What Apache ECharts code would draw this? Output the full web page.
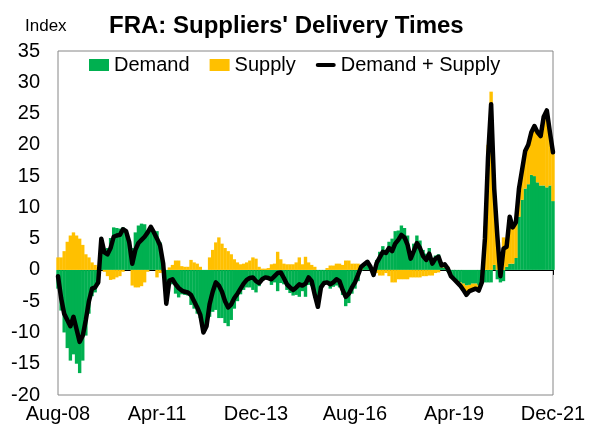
<!DOCTYPE html>
<html>
<head>
<meta charset="utf-8">
<script src="https://cdn.jsdelivr.net/npm/echarts@6/dist/echarts.min.js"></script>
<style>
html,body{margin:0;padding:0;background:#fff;}
#chart{width:594px;height:435px;}
</style>
</head>
<body>
<div id="chart"></div>
<script>
// Monthly data, Aug-08 .. Dec-21
const startYear = 2008;
const startMonth = 7; // August (0-based)
const monthNames = ['Jan','Feb','Mar','Apr','May','Jun','Jul','Aug','Sep','Oct','Nov','Dec'];

const demand = [
  -3, -6.5, -10, -12.5, -14.5, -13.5, -15, -16.5, -14.5, -10.5,
  -7, -4.2, -3.6, -2.3, 5.0, 3.1, 3.5, 5.1, 6.8, 6.7,
  6.6, 6.8, 6.2, 4.5, 3.5, 6.0, 7.1, 7.4, 7.3, 6.3,
  6.9, 6.0, 6.2, 4.4, 1.0, -5.4, -2.1, -2.3, -3.8, -4.4,
  -3.9, -4.0, -4.1, -5.6, -6.2, -7.0, -7.7, -10, -9, -7.5,
  -6.7, -6.4, -7.7, -7.7, -8.5, -9.0, -8.0, -6.2, -5.0, -3.9,
  -3.2, -2.8, -2.8, -3.2, -3.6, -2.6, -1.7, -1.4, -1.6, -2.4,
  -2.0, -3.4, -2.1, -2.3, -3.2, -3.7, -4.1, -4.0, -4.3, -3.4,
  -4.3, -2.4, -2.6, -4.5, -5.9, -2.8, -2.1, -2.3, -3.0, -2.7,
  -2.5, -2.8, -4.0, -5.8, -5.3, -3.8, -3.0, -1.8, -0.1, 0.6,
  1.3, 0.5, -0.8, 1.6, 2.9, 3.8, 3.2, 4.5, 5.0, 6.2,
  6.3, 7.1, 6.7, 5.5, 3.0, 4.2, 5.5, 4.7, 3.2, 2.6,
  3.5, 1.9, 2.3, 2.5, 0.4, 0.4, -0.3, -1.0, -1.5, -1.7,
  -2.0, -2.2, -2.5, -2.4, -2.2, -2.2, -2.5, -1.5, -2, -2,
  -2, 0.8, -1.5, -2, -1.8, 0.5, 1.0, 1.0, 1.9, 8.5,
  11.2, 13, 13.7, 15.2, 15, 14, 13.5, 13.5, 13.2, 13.5,
  11
];

const supply = [
  2, 2, 3, 4.5, 5.5, 6, 5.5, 5, 4, 2.5,
  2, 1.2, 0.8, 0.3, 0, -0.3, -1.0, -1.6, -1.5, -1.2,
  -1.0, -0.3, 0, 0, -2.5, -2.8, -2.8, -2.6, -2.0, -0.3,
  0, 0, -1.2, -0.5, 0, 0, 0.4, 0.8, 1.5, 1.5,
  0.6, 0.5, 0.5, 1.6, 1.2, 1.0, 0.5, 0, 0, 2,
  3.2, 4.4, 5.2, 4.2, 3.5, 3.0, 2.5, 1.7, 1.2, 0.9,
  1.0, 1.2, 1.5, 2.0, 1.8, 0.5, 0.2, 0.2, 0.3, 0.9,
  1.0, 2.9, 1.7, 1.0, 0.9, 0.9, 0.9, 1.2, 2.0, 0.9,
  2.1, 1.2, 0.8, 0.5, 0, 0, 0, 0.3, 0.7, 0.7,
  1.0, 1.0, 0.8, 1.5, 1.5, 1.0, 1.0, 1.0, 0.6, 0.3,
  0, 0, 0, -0.5, -0.9, -0.9, -0.5, -1.0, -2.0, -2.0,
  -1.5, -1.5, -1.5, -1.5, -1.2, -1.2, -1.2, -1.2, -1.0, -1.0,
  -0.9, -0.9, -0.5, -0.4, 0.3, 0.5, 0.5, 0, 0, -0.3,
  -0.5, -1.0, -1.5, -1.0, -1.0, -0.8, -0.8, -0.5, 7, 20,
  28.5, 12.2, 7, 1, 5.2, 3.2, 7.5, 5.8, 5.7, 4.5,
  4.8, 6, 6.3, 6.8, 8, 8, 7.9, 11, 12.3, 8.5,
  7.8
];

const tickLabels = ['Aug-08', 'Apr-11', 'Dec-13', 'Aug-16', 'Apr-19', 'Dec-21'];

const categories = [];
for (let k = 0; k < demand.length; k++) {
  const m = (startMonth + k) % 12;
  const y = startYear + Math.floor((startMonth + k) / 12);
  categories.push(monthNames[m] + '-' + String(y % 100).padStart(2, '0'));
}
const total = demand.map((d, k) => +(d + supply[k]).toFixed(2));

const FONT = '"Liberation Sans", Arial, sans-serif';
// thick line legend key (degenerate sub-paths only fix the bounding box)
const LINE_ICON = 'path://M0,0L0.01,0L0.01,0.01ZM0,12L0.01,12L0.01,11.99ZM2.5,3.5L21.5,3.5A2.5,2.5,0,0,1,21.5,8.5L2.5,8.5A2.5,2.5,0,0,1,2.5,3.5Z';

const chart = echarts.init(document.getElementById('chart'), null, {renderer: 'canvas'});
chart.setOption({
  animation: false,
  backgroundColor: '#ffffff',
  textStyle: {fontFamily: FONT, color: '#000'},
  title: [
    {text: "FRA: Suppliers' Delivery Times", left: 109, top: 14, padding: 0,
     textStyle: {fontFamily: FONT, fontSize: 24, fontWeight: 'bold', color: '#000'}},
    {text: 'Index', left: 25, top: 18, padding: 0,
     textStyle: {fontFamily: FONT, fontSize: 17, fontWeight: 'normal', color: '#000'}}
  ],
  legend: {
    left: 89, top: 55, itemGap: 20, itemWidth: 20, itemHeight: 12, padding: 0,
    textStyle: {fontFamily: FONT, fontSize: 20, color: '#000'},
    data: [
      {name: 'Demand', icon: 'rect'},
      {name: 'Supply', icon: 'rect'},
      {name: 'Demand + Supply', icon: LINE_ICON, itemStyle: {color: '#000'}}
    ]
  },
  grid: {left: 58, right: 41, top: 51, bottom: 40, show: true, borderColor: '#868686', borderWidth: 1},
  xAxis: [
    {
      type: 'category', data: categories, boundaryGap: false, position: 'bottom',
      axisLine: {show: false, onZero: false},
      axisTick: {show: false},
      axisLabel: {interval: 31, margin: 9, fontSize: 20, color: '#000', fontFamily: FONT,
        formatter: v => tickLabels.includes(v) ? v : ''},
      splitLine: {show: false}
    },
    {
      type: 'category', data: categories, boundaryGap: false, position: 'top',
      axisLine: {show: true, onZero: true, lineStyle: {color: '#000', width: 1}},
      axisTick: {show: true, interval: 31, inside: true, length: 5, lineStyle: {color: '#000'}},
      axisLabel: {show: false},
      splitLine: {show: false}
    }
  ],
  yAxis: {
    type: 'value', min: -20, max: 35, interval: 5,
    axisLine: {show: false}, axisTick: {show: false}, splitLine: {show: false},
    axisLabel: {fontSize: 20, color: '#000', margin: 18, fontFamily: FONT}
  },
  series: [
    {name: 'Demand', type: 'bar', stack: 'tot', data: demand, barWidth: 3.4,
     itemStyle: {color: '#00B050'}, clip: true},
    {name: 'Supply', type: 'bar', stack: 'tot', data: supply, barWidth: 3.4,
     itemStyle: {color: '#FFC000'}, clip: true},
    {name: 'Demand + Supply', type: 'line', data: total, symbol: 'none', showSymbol: false,
     lineStyle: {color: '#000', width: 4.5, join: 'round', cap: 'round'}, itemStyle: {color: '#000'}, z: 5}
  ]
});
</script>
</body>
</html>
